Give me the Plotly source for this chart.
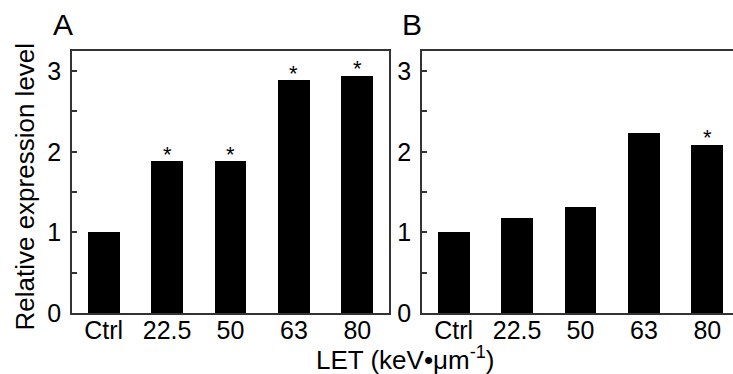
import plotly.graph_objects as go

categories = ["Ctrl", "22.5", "50", "63", "80"]
values_a = [1.00, 1.88, 1.88, 2.89, 2.945]
values_b = [1.00, 1.18, 1.31, 2.23, 2.09]
signif_a = [False, True, True, True, True]
signif_b = [False, False, False, False, True]
y_ticks = [0, 1, 2, 3]

W, H = 733, 374
ML, MR, MT, MB = 72, 0, 51, 61
PW = W - ML - MR
PH = H - MT - MB

def px_x(px):
    return (px - ML) / PW

def px_y(py):
    return (H - MB - py) / PH

FONT = "Liberation Sans, Arial, sans-serif"
LINE = "#333333"

fig = go.Figure()
fig.add_trace(go.Bar(x=list(range(len(categories))), y=values_a, width=0.5,
                     marker=dict(color="black", line=dict(width=0)),
                     xaxis="x", yaxis="y", showlegend=False))
fig.add_trace(go.Bar(x=list(range(len(categories))), y=values_b, width=0.5,
                     marker=dict(color="black", line=dict(width=0)),
                     xaxis="x2", yaxis="y2", showlegend=False))

annotations = []
for i, (v, s) in enumerate(zip(values_a, signif_a)):
    if s:
        annotations.append(dict(x=i, y=v, xref="x", yref="y", text="*", showarrow=False,
                                yanchor="middle", yshift=7, font=dict(size=22, color="black", family=FONT)))
for i, (v, s) in enumerate(zip(values_b, signif_b)):
    if s:
        annotations.append(dict(x=i, y=v, xref="x2", yref="y2", text="*", showarrow=False,
                                yanchor="middle", yshift=7, font=dict(size=22, color="black", family=FONT)))

annotations += [
    dict(x=px_x(62.5), y=px_y(24), xref="paper", yref="paper", text="A", showarrow=False,
         xanchor="center", yanchor="middle", font=dict(size=30, color="black", family=FONT)),
    dict(x=px_x(411.7), y=px_y(24), xref="paper", yref="paper", text="B", showarrow=False,
         xanchor="center", yanchor="middle", font=dict(size=30, color="black", family=FONT)),
    dict(x=px_x(24), y=px_y(186.5), xref="paper", yref="paper", text="Relative expression level",
         textangle=-90, showarrow=False, xanchor="center", yanchor="middle",
         font=dict(size=26, color="black", family=FONT)),
    dict(x=px_x(405), y=px_y(358), xref="paper", yref="paper", text="LET (keV•μm<sup>-1</sup>)",
         showarrow=False, xanchor="center", yanchor="middle",
         font=dict(size=26, color="black", family=FONT)),
]

xa_common = dict(tickmode="array", tickvals=list(range(len(categories))), ticktext=categories,
                 ticks="", showline=True, linecolor=LINE, linewidth=1.5, showgrid=False,
                 zeroline=False, tickfont=dict(size=25, color="black", family=FONT),
                 ticklabelstandoff=-6, fixedrange=True)
ya_common = dict(range=[0, 3.25], tickmode="array", tickvals=y_ticks, ticks="inside", ticklen=5,
                 tickcolor=LINE, tickwidth=1.5, showline=True, linecolor=LINE, linewidth=1.5,
                 showgrid=False, zeroline=False,
                 minor=dict(dtick=0.5, ticks="inside", ticklen=5, tickcolor=LINE, tickwidth=1.5, showgrid=False),
                 tickfont=dict(size=25, color="black", family=FONT), ticklabelstandoff=4, fixedrange=True)

fig.update_layout(
    width=W, height=H,
    margin=dict(l=ML, r=MR, t=MT, b=MB, pad=0),
    paper_bgcolor="white", plot_bgcolor="white",
    font=dict(family=FONT, color="black"),
    xaxis=dict(domain=[0, px_x(389)], range=[-0.5, 4.5], mirror=True, anchor="y", **xa_common),
    yaxis=dict(domain=[0, 1], mirror=True, anchor="x", **ya_common),
    xaxis2=dict(domain=[px_x(422), 1], range=[-0.5, 4.405], mirror=True, anchor="y2", **xa_common),
    yaxis2=dict(domain=[0, 1], mirror=False, anchor="x2", **ya_common),
    annotations=annotations,
    bargap=0,
)

fig.write_html("out.html", config={"displayModeBar": False},
               post_script="document.body.style.margin='0';document.body.style.overflow='hidden';")
